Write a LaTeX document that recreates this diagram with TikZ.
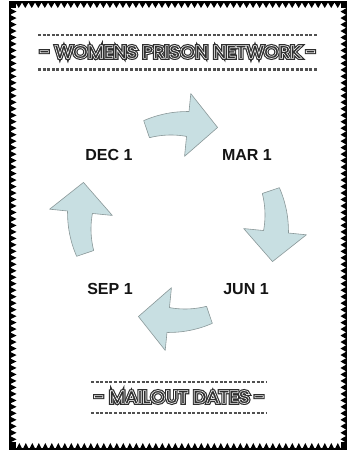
\documentclass[tikz,border=0pt]{standalone}
\usepackage{fontspec}
\setmainfont{Liberation Sans}
\newfontfamily\tOuter{Poppins}[UprightFont=* Light, FakeBold=25, FakeStretch=1.11, LetterSpace=3]
\newfontfamily\tMid{Poppins}[UprightFont=* Light, FakeBold=11, FakeStretch=1.11, LetterSpace=3]
\newfontfamily\tCore{Poppins}[UprightFont=* Light, FakeBold=1.5, FakeStretch=1.11, LetterSpace=3]
\usetikzlibrary{calc}
\definecolor{arrowfill}{HTML}{C8DFE2}
\definecolor{arrowline}{HTML}{8A9899}
\definecolor{titlegray}{HTML}{2E2E2E}
\definecolor{dashgray}{HTML}{505050}
\newcommand\inlinetext[1]{\makebox[0pt][l]{\tOuter\color{titlegray}#1}\makebox[0pt][l]{\tMid\color{white}#1}{\tCore\color{titlegray}#1}}
% tail angle #1, neck angle #2 (around the scope origin)
\newcommand\blockarrow[2]{%
  \filldraw[cyclearrow]
    plot[domain=0:1,samples=24,variable=\s]
      ({(107+4*\s)*cos(#1+(#2-(#1))*\s)},{(107+4*\s)*sin(#1+(#2-(#1))*\s)})
    -- ({129*cos(#2)},{129*sin(#2)})
    -- ({98*cos(#2)+30*sin(#2)},{98*sin(#2)-30*cos(#2)})
    -- ({66*cos(#2)},{66*sin(#2)})
    -- plot[domain=0:1,samples=24,variable=\s]
      ({(86+3*\s)*cos(#2+(#1-(#2))*\s)},{(86+3*\s)*sin(#2+(#1-(#2))*\s)})
    -- cycle;}
\tikzset{
  cyclearrow/.style={fill=arrowfill,draw=arrowline,line width=0.6pt,line join=round},
  dashline/.style={draw=dashgray,line width=2.4pt,dash pattern=on 3pt off 1.6pt},
  headline/.style={inner sep=0pt,font=\fontsize{16.5}{18}\selectfont},
  datelabel/.style={inner sep=0pt,font=\bfseries\fontsize{16}{18}\selectfont,text=black!92},
  trim/.style={fill=black}
}
\begin{document}
\begin{tikzpicture}[x=1pt,y=1pt]
\useasboundingbox (0,0) rectangle (347,450);
\fill[white] (0,0) rectangle (347,450);
% border
\fill[trim] (9,447) rectangle (347,448.5);
\fill[trim] (9,0) rectangle (10.5,448.5);
\fill[trim] (345.5,0) rectangle (347,448.5);
\fill[trim] (9,0) rectangle (347,2);
\fill[trim] (9,442) rectangle (15.5,448);
\fill[trim] (341,442) rectangle (347,448);
\fill[trim] (9,0) rectangle (16,7.5);
\fill[trim] (341,0) rectangle (347,7.5);
\foreach \i in {0,...,49}{
  \fill[trim] ({15.5+\i*6.51},447.5) -- ++(6.51,0) -- ++(-3.255,-5.5) -- cycle;
  \fill[trim] ({16+\i*6.5},0.5) -- ++(6.5,0) -- ++(-3.25,6.5) -- cycle;
}
\foreach \i in {0,...,66}{
  \fill[trim] (10,{7.5+\i*6.48}) -- ++(0,6.48) -- ++(6.5,-3.24) -- cycle;
  \fill[trim] (346,{7.5+\i*6.48}) -- ++(0,6.48) -- ++(-5.5,-3.24) -- cycle;
}
% headings
\coordinate (t1a) at (38,414.7); \coordinate (t1b) at (318,414.7);
\coordinate (t2a) at (38,380.3); \coordinate (t2b) at (318,380.3);
\draw[dashline] (t1a) -- (t1b);
\draw[dashline] (t2a) -- (t2b);
\node[headline] (title) at (178,398) {\inlinetext{- WOMENS PRISON NETWORK -}};
\coordinate (s1a) at (91,68); \coordinate (s1b) at (267,68);
\coordinate (s2a) at (91,37); \coordinate (s2b) at (267,37);
\draw[dashline] (s1a) -- (s1b);
\draw[dashline] (s2a) -- (s2b);
\node[headline] (subtitle) at (179.5,53) {\inlinetext{- MAILOUT DATES -}};
% dates
\node[datelabel] (dec) at (109,295) {DEC 1};
\node[datelabel] (mar) at (247,295) {MAR 1};
\node[datelabel] (sep) at (110,161) {SEP 1};
\node[datelabel] (jun) at (246,161) {JUN 1};
% cycle arrows
\coordinate (C) at (178,228);
\begin{scope}[shift={(C)}]
\blockarrow{108.7}{84.3}
\blockarrow{18.7}{-5.7}
\blockarrow{-71.3}{-95.7}
\blockarrow{-161.3}{-185.7}
\end{scope}
\end{tikzpicture}
\end{document}
